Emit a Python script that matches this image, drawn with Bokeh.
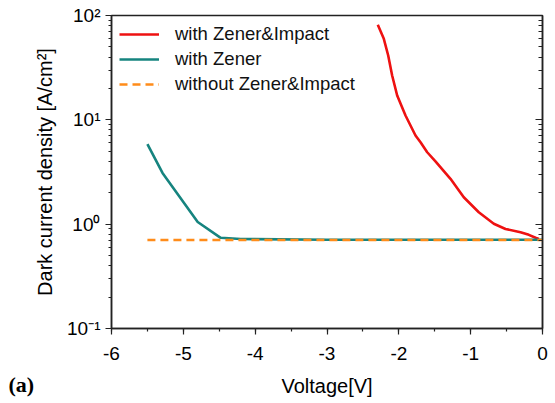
from bokeh.plotting import figure
from bokeh.models import (LogAxis, Legend, LegendItem, Title, CustomJSTickFormatter,
                          SingleIntervalTicker, LogTicker, Range1d)
from bokeh.embed import file_html
from bokeh.resources import INLINE

# Dark current density vs. reverse bias voltage
v_zi = [-2.293, -2.209, -2.148, -2.093, -2.023, -1.907, -1.768, -1.698, -1.605, -1.49,
        -1.281, -1.096, -0.887, -0.678, -0.515, -0.306, -0.19, -0.097, -0.05]
j_zi = [81.5, 59.8, 41.4, 26.6, 17.1, 11.0, 7.08, 6.10, 4.89, 4.0,
        2.72, 1.81, 1.30, 1.01, 0.90, 0.835, 0.79, 0.74, 0.72]

v_z = [-5.50, -5.29, -4.80, -4.48, -4.20, -3.0, -2.0, -1.0, 0.0]
j_z = [5.86, 3.10, 1.05, 0.74, 0.72, 0.71, 0.71, 0.71, 0.71]

v_none = [-5.50, 0.0]
j_none = [0.706, 0.706]

FONT = "Liberation Sans"

p = figure(width=555, height=403, output_backend="svg", toolbar_location=None,
           y_axis_type="log", x_range=Range1d(-6, 0), y_range=Range1d(0.1, 100))
p.min_border_left = 111
p.min_border_right = 13
p.min_border_top = 15
p.min_border_bottom = 75
p.grid.visible = False
p.outline_line_color = "#222222"
p.outline_line_width = 1.5

r1 = p.line(v_zi, j_zi, line_color="#ee1111", line_width=2.6)
r2 = p.line(v_z, j_z, line_color="#16847f", line_width=2.6)
r3 = p.line(v_none, j_none, line_color="#ff8c1a", line_width=2.6, line_dash="8 5")

# bottom axis
xa = p.xaxis[0]
xa.ticker = SingleIntervalTicker(interval=1, num_minor_ticks=2)
xa.axis_label = "Voltage[V]"
xa.formatter = CustomJSTickFormatter(code="return String(Math.round(tick));")
# left axis
ya = p.yaxis[0]
ya.ticker = LogTicker(num_minor_ticks=10)
ya.axis_label = "Dark current density [A/cm²]"
ya.formatter = CustomJSTickFormatter(code="""
    const e = Math.round(Math.log10(tick));
    const sup = {'-1': '\u207b\u00b9', '0': '\u2070', '1': '\u00b9', '2': '\u00b2', '3': '\u00b3'};
    return '10' + sup[String(e)];
""")

for ax in (xa, ya):
    ax.axis_line_color = "#222222"
    ax.axis_line_width = 1.5
    ax.major_tick_line_color = "#222222"
    ax.minor_tick_line_color = "#222222"
    ax.major_tick_line_width = 1.2
    ax.minor_tick_line_width = 1.2
    ax.major_tick_in = 0
    ax.major_tick_out = 6
    ax.minor_tick_in = 0
    ax.minor_tick_out = 3
    ax.major_label_text_font = FONT
    ax.major_label_text_font_size = "19px"
    ax.major_label_text_color = "black"
    ax.axis_label_text_font = FONT
    ax.axis_label_text_font_size = "20px"
    ax.axis_label_text_font_style = "normal"
    ax.axis_label_text_color = "black"

xa.major_label_standoff = 12
xa.axis_label_standoff = 12
ya.major_label_standoff = 5
ya.axis_label_standoff = 8

# mirrored right axis with inward ticks (labels hidden)
ra = LogAxis(ticker=LogTicker(num_minor_ticks=10),
             formatter=CustomJSTickFormatter(code="return '';"),
             major_label_text_font_size="4px", major_label_text_alpha=0,
             axis_line_color="#222222", axis_line_width=1.5,
             major_tick_in=7, major_tick_out=0, minor_tick_in=4, minor_tick_out=0,
             major_tick_line_color="#222222", minor_tick_line_color="#222222",
             major_tick_line_width=1.2, minor_tick_line_width=1.2,
             major_label_standoff=0)
p.add_layout(ra, "right")

legend = Legend(items=[
    LegendItem(label="with Zener&Impact", renderers=[r1]),
    LegendItem(label="with Zener", renderers=[r2]),
    LegendItem(label="without Zener&Impact", renderers=[r3]),
], location="top_left", border_line_color=None, background_fill_alpha=0,
   label_text_font=FONT, label_text_font_size="18.5px", label_text_color="#111111",
   glyph_width=40, glyph_height=20, label_height=20, label_standoff=16,
   spacing=3, margin=8, padding=6)
p.add_layout(legend)

# panel tag in the lower-left corner, pulled up beside the axis title
tag = Title(text="(a)", align="left", vertical_align="top", offset=-103, standoff=-56,
            text_font="Liberation Serif", text_font_style="bold",
            text_font_size="22px", text_color="black")
p.add_layout(tag, "below")

open("out.html", "w").write(file_html(p, INLINE))
